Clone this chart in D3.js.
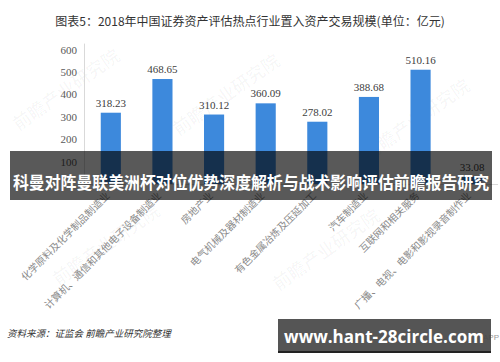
<!DOCTYPE html>
<html>
<head>
<meta charset="utf-8">
<script src="https://cdn.jsdelivr.net/npm/d3@7"></script>
<style>
  html, body { margin: 0; padding: 0; background: #fff; }
  #chart { width: 500px; height: 362px; overflow: hidden; }
</style>
</head>
<body>
<div id="chart"></div>
<script>
// chart data
var categories = [
  "化学原料及化学制品制造业",
  "计算机、通信和其他电子设备制造业",
  "房地产业",
  "电气机械及器材制造业",
  "有色金属冶炼及压延加工",
  "汽车制造业",
  "互联网和相关服务",
  "广播、电视、电影和影视录音制作业"
];
var values = [318.23, 468.65, 310.12, 360.09, 278.02, 388.68, 510.16, 33.08];
var yTicks = [100, 200, 300, 400, 500, 600];

var titleText = "图表5：2018年中国证券资产评估热点行业置入资产交易规模(单位：亿元)";
var sourceText = "资料来源：证监会 前瞻产业研究院整理";
var bannerText = "科曼对阵曼联美洲杯对位优势深度解析与战术影响评估前瞻报告研究";
var siteText = "www.hant-28circle.com";

var width = 500, height = 362;
var serif = "'Liberation Serif', 'DejaVu Serif', serif";
var cjk = "'Noto Sans CJK SC', 'Noto Sans', sans-serif";

var svg = d3.select("#chart").append("svg")
    .attr("width", width)
    .attr("height", height);

// faint watermarks
var marks = [[70, 95], [230, 100], [420, 125], [110, 250], [330, 255]];
svg.selectAll("text.wm")
    .data(marks)
  .enter().append("text")
    .attr("class", "wm")
    .attr("transform", function(d) { return "translate(" + d[0] + "," + d[1] + ") rotate(-35)"; })
    .attr("text-anchor", "middle")
    .style("font-family", cjk)
    .style("font-size", "18px")
    .style("font-weight", "bold")
    .style("fill", "rgba(0,0,0,0.03)")
    .text("前瞻产业研究院");

// title
svg.append("text")
    .attr("x", 250)
    .attr("y", 26)
    .attr("text-anchor", "middle")
    .style("font-family", cjk)
    .style("font-size", "12px")
    .style("fill", "#333")
    .text(titleText);

var x = d3.scaleBand()
    .domain(categories)
    .range([85, 498])
    .paddingInner(0.61)
    .paddingOuter(0.305);

var y = d3.scaleLinear()
    .domain([0, 600])
    .range([184, 49.6]);

// y axis labels
var yAxis = d3.axisLeft(y)
    .tickValues(yTicks)
    .tickSize(0)
    .tickPadding(7);

var gy = svg.append("g")
    .attr("transform", "translate(84,0)")
    .call(yAxis);
gy.select(".domain").remove();
gy.selectAll("text")
    .style("font-family", serif)
    .style("font-size", "11px")
    .style("fill", "#595959");

// axis lines
svg.append("line")
    .attr("x1", 84.5).attr("x2", 84.5)
    .attr("y1", y(600) - 6).attr("y2", y(0))
    .style("stroke", "#d9d9d9");
svg.append("line")
    .attr("x1", 84).attr("x2", 498)
    .attr("y1", y(0) + 0.5).attr("y2", y(0) + 0.5)
    .style("stroke", "#d9d9d9");

// bars
svg.selectAll("rect.bar")
    .data(values)
  .enter().append("rect")
    .attr("class", "bar")
    .style("fill", "#3d89dc")
    .attr("x", function(d, i) { return x(categories[i]); })
    .attr("width", x.bandwidth())
    .attr("y", function(d) { return y(d); })
    .attr("height", function(d) { return y(0) - y(d); });

// value labels
svg.selectAll("text.val")
    .data(values)
  .enter().append("text")
    .attr("class", "val")
    .attr("x", function(d, i) { return x(categories[i]) + x.bandwidth() / 2; })
    .attr("y", function(d) { return y(d) - 6; })
    .attr("text-anchor", "middle")
    .style("font-family", serif)
    .style("font-size", "11px")
    .style("fill", "#404040")
    .text(function(d) { return d.toFixed(2); });

// category labels, rotated
svg.selectAll("text.cat")
    .data(categories)
  .enter().append("text")
    .attr("class", "cat")
    .attr("transform", function(d) {
      return "translate(" + (x(d) + x.bandwidth() / 2 - 3) + "," + 194 + ") rotate(-45)";
    })
    .attr("text-anchor", "end")
    .attr("dy", "0.35em")
    .style("font-family", cjk)
    .style("font-size", "10px")
    .style("fill", "#8a8a8a")
    .text(function(d) { return d; });

// source note
svg.append("text")
    .attr("x", 7)
    .attr("y", 337)
    .style("font-family", cjk)
    .style("font-size", "9.5px")
    .style("font-style", "italic")
    .style("fill", "#333")
    .text(sourceText);

// faint app text peeking out beside the site box
svg.append("text")
    .attr("x", 499)
    .attr("y", 340)
    .attr("text-anchor", "end")
    .style("font-family", "'Liberation Sans', sans-serif")
    .style("font-size", "8px")
    .style("fill", "#999")
    .text("APP");

// overlay banner
svg.append("rect")
    .attr("x", 10).attr("y", 151)
    .attr("width", 482).attr("height", 49)
    .style("fill", "rgba(0,0,0,0.65)");
svg.append("text")
    .attr("x", 251)
    .attr("y", 189)
    .attr("text-anchor", "middle")
    .attr("textLength", 476)
    .attr("lengthAdjust", "spacingAndGlyphs")
    .style("font-family", cjk)
    .style("font-size", "17px")
    .style("font-weight", "bold")
    .style("fill", "#fff")
    .text(bannerText);

// site box
svg.append("rect")
    .attr("x", 278).attr("y", 319)
    .attr("width", 213).attr("height", 33)
    .style("fill", "rgba(70,70,70,0.92)");
svg.append("line")
    .attr("x1", 278).attr("x2", 491)
    .attr("y1", 352).attr("y2", 352)
    .style("stroke", "#222")
    .style("stroke-width", 2);
svg.append("text")
    .attr("x", 384)
    .attr("y", 343)
    .attr("text-anchor", "middle")
    .style("font-family", "'Open Sans', 'DejaVu Sans', sans-serif")
    .style("font-size", "17px")
    .style("font-weight", "bold")
    .style("fill", "#fff")
    .text(siteText);
</script>
</body>
</html>
